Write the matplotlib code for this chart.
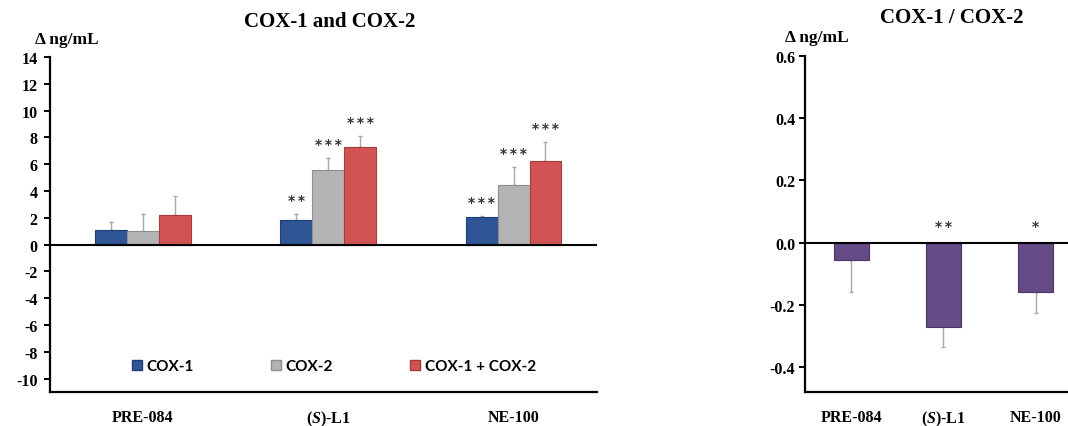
import matplotlib
matplotlib.use("Agg")
import matplotlib.pyplot as plt
from matplotlib.patches import Patch
import numpy as np

plt.rcParams['font.family'] = ['Liberation Serif', 'DejaVu Serif']
plt.rcParams['font.weight'] = 'bold'
plt.rcParams['axes.unicode_minus'] = False
plt.rcParams['mathtext.fontset'] = 'custom'
plt.rcParams['mathtext.rm'] = 'Liberation Serif:bold'
plt.rcParams['mathtext.it'] = 'Liberation Serif:italic:bold'

# ---- data ----
compounds = ["PRE-084", r"$\mathit{(S)}$-L1", "NE-100"]
series = ["COX-1", "COX-2", "COX-1 + COX-2"]
cox1 = [1.1, 1.8, 2.05]
cox2 = [1.0, 5.6, 4.45]
cox_sum = [2.2, 7.3, 6.25]
cox1_err = [0.6, 0.5, 0.1]
cox2_err = [1.3, 0.9, 1.35]
cox_sum_err = [1.4, 0.8, 1.4]
cox1_sig = ["", "**", "***"]
cox2_sig = ["", "***", "***"]
cox_sum_sig = ["", "***", "***"]

ratio = [-0.055, -0.27, -0.16]
ratio_err = [0.105, 0.065, 0.065]
ratio_sig = ["", "**", "*"]

# ---- style ----
fill_colors = ["#2F5597", "#B4B4B4", "#D25452"]
edge_colors = ["#1F3E75", "#8E8E8E", "#A53A38"]
ratio_color = "#674B86"
ratio_edge = "#4A3466"
err_color = "#A8A8A8"
star_font = {"family": "DejaVu Sans", "weight": "bold", "size": 10, "color": "#333333"}

W, H = 1068, 427
fig = plt.figure(figsize=(W / 100, H / 100), dpi=100)


def frac_box(x0, x1, y_top, y_bot):
    return [x0 / W, 1 - y_bot / H, (x1 - x0) / W, (y_bot - y_top) / H]


def style_axis(ax):
    for s in ("top", "right"):
        ax.spines[s].set_visible(False)
    ax.spines["left"].set_linewidth(1.6)
    ax.spines["bottom"].set_linewidth(1.6)
    ax.axhline(0, color="black", lw=1.5, zorder=4)
    ax.tick_params(axis="x", length=0, pad=12, labelsize=11.5)
    ax.tick_params(axis="y", direction="out", length=4, width=1.4, labelsize=11.5)


def stars(ax, xx, y, text, dy):
    # spread the asterisks a little with thin spaces
    ax.annotate("\u2009".join(text), (xx, y), xytext=(0, dy),
                textcoords="offset points", ha="center", va="center", **star_font)


# ---- left panel: COX-1 and COX-2 ----
ax1 = fig.add_axes(frac_box(50, 597, 58, 393))
x = np.arange(len(compounds))
bw = 0.172
groups = [(cox1, cox1_err, cox1_sig), (cox2, cox2_err, cox2_sig),
          (cox_sum, cox_sum_err, cox_sum_sig)]
for i, (vals, errs, sigs) in enumerate(groups):
    xi = x + (i - 1) * bw
    ax1.bar(xi, vals, width=bw, color=fill_colors[i], edgecolor=edge_colors[i],
            linewidth=0.8, zorder=3, label=series[i])
    ax1.errorbar(xi, vals, yerr=[np.zeros(len(vals)), errs], fmt="none",
                 ecolor=err_color, elinewidth=1.0, capsize=1.5, capthick=1.0,
                 zorder=2)
    for xx, v, e, s in zip(xi, vals, errs, sigs):
        if s:
            stars(ax1, xx, v + e, s, 10)
ax1.set_xlim(-0.5, 2.45)
ax1.set_ylim(-11, 14)
ax1.set_yticks(np.arange(-10, 15, 2))
ax1.set_xticks(x)
ax1.set_xticklabels(compounds)
style_axis(ax1)
ax1.tick_params(axis="y", pad=5)

handles = [Patch(facecolor=fill_colors[i], edgecolor=edge_colors[i], label=series[i])
           for i in range(3)]
ax1.legend(handles=handles, ncol=3, frameon=False, loc="center",
           bbox_to_anchor=((334 - 50) / (597 - 50), (393 - 367) / (393 - 58)),
           prop={"family": "Lato", "weight": "bold", "size": 11},
           handlelength=0.65, handleheight=0.65, handletextpad=0.3,
           columnspacing=5.05)

fig.text(330 / W, 1 - 22 / H, "COX-1 and COX-2", ha="center", va="center",
         fontsize=15, fontweight="bold")
fig.text(35 / W, 1 - 40 / H, "Δ ng/mL", ha="left", va="center",
         fontsize=12.5, fontweight="bold")

# ---- right panel: COX-1 / COX-2 ----
ax2 = fig.add_axes(frac_box(805, 1068, 57, 393))
bw2 = 0.38
ax2.bar(x, ratio, width=bw2, color=ratio_color, edgecolor=ratio_edge,
        linewidth=0.8, zorder=3)
ax2.errorbar(x, ratio, yerr=[ratio_err, np.zeros(len(ratio))], fmt="none",
             ecolor=err_color, elinewidth=1.0, capsize=1.5, capthick=1.0, zorder=2)
for xx, s in zip(x, ratio_sig):
    if s:
        stars(ax2, xx, 0, s, 12)
ax2.set_xlim(-0.5, 2.35)
ax2.set_ylim(-0.48, 0.6)
ax2.set_yticks([-0.4, -0.2, 0.0, 0.2, 0.4, 0.6])
ax2.set_yticklabels(["-0.4", "-0.2", "0.0", "0.2", "0.4", "0.6"])
ax2.set_xticks(x)
ax2.set_xticklabels(compounds)
style_axis(ax2)
ax2.tick_params(axis="y", pad=3)

fig.text(952 / W, 1 - 18 / H, "COX-1 / COX-2", ha="center", va="center",
         fontsize=15, fontweight="bold")
fig.text(785 / W, 1 - 38 / H, "Δ ng/mL", ha="left", va="center",
         fontsize=12.5, fontweight="bold")

fig.savefig("out.png", dpi=100)
